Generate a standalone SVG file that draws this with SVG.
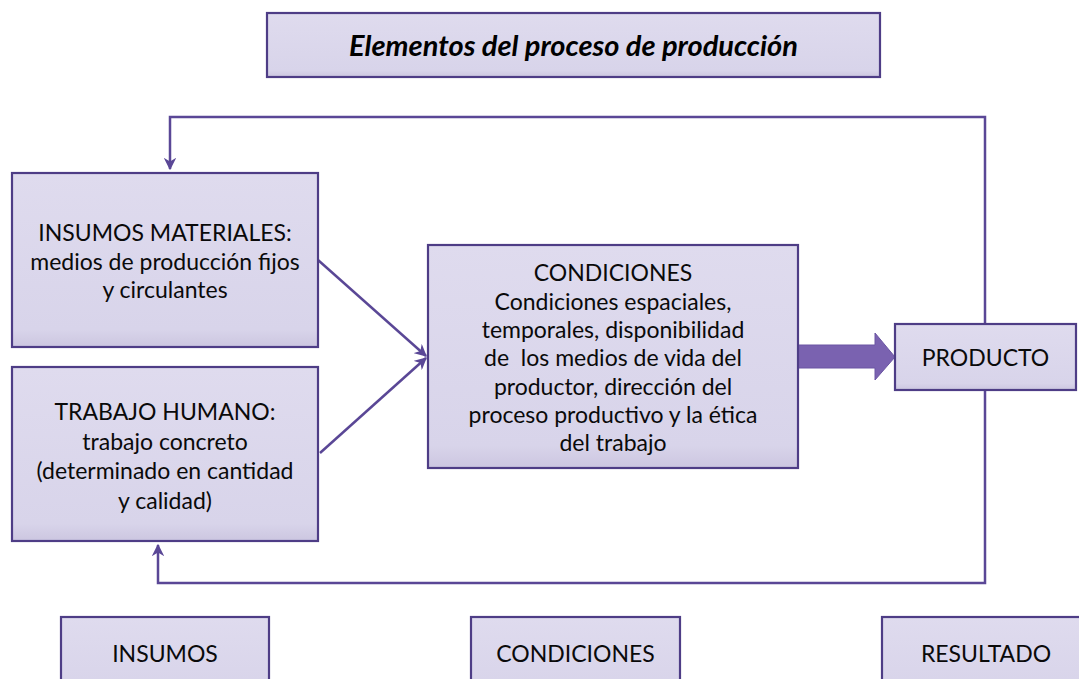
<svg xmlns="http://www.w3.org/2000/svg" width="1079" height="679" viewBox="0 0 1079 679">
<defs>
<linearGradient id="boxfill" x1="0" y1="0" x2="0" y2="1">
<stop offset="0" stop-color="#dfdbee"/>
<stop offset="0.9" stop-color="#d8d4ea"/>
<stop offset="1" stop-color="#ccc6e0"/>
</linearGradient>
<marker id="ah" viewBox="0 0 10 10" refX="9" refY="5" markerWidth="5" markerHeight="5" orient="auto" markerUnits="strokeWidth">
<path d="M0,0 L10,5 L0,10 L3,5 Z" fill="#5a4796"/>
</marker>
<style>
.box{fill:url(#boxfill);stroke:#4e3d86;stroke-width:2.2}
.t{font-family:Lato,"Liberation Sans",sans-serif;font-size:23px;fill:#0a0a0a;text-anchor:middle}
.title{font-family:Lato,"Liberation Sans",sans-serif;font-size:29px;font-weight:bold;font-style:italic;fill:#000;text-anchor:middle}
.lbl{font-family:Lato,"Liberation Sans",sans-serif;font-size:23px;fill:#0a0a0a;text-anchor:middle}
.conn{fill:none;stroke:#5a4796;stroke-width:2.5}
</style>
</defs>
<rect width="1079" height="679" fill="#ffffff"/>

<g id="title">
<rect class="box" x="267" y="13" width="613" height="64"/>
<text class="title" x="573.5" y="56">Elementos del proceso de producción</text>
</g>

<g id="connectors">
<path class="conn" d="M985,324 V117 H170 V169" marker-end="url(#ah)"/>
<path class="conn" d="M985,390 V583 H158 V545" marker-end="url(#ah)"/>
<path class="conn" d="M318,260 L426,356" marker-end="url(#ah)"/>
<path class="conn" d="M320,453 L426,358" marker-end="url(#ah)"/>
<polygon points="798,345 875,345 875,333 895,357 875,380 875,368 798,368" fill="#7a62b0" stroke="#6a55a3" stroke-width="1"/>
</g>

<g id="insumos-materiales">
<rect class="box" x="12" y="173" width="306" height="174"/>
<text class="t" x="165" y="241">INSUMOS MATERIALES:</text>
<text class="t" x="165" y="270">medios de producción fijos</text>
<text class="t" x="165" y="298">y circulantes</text>
</g>

<g id="trabajo-humano">
<rect class="box" x="12" y="367" width="306" height="174"/>
<text class="t" x="165" y="420">TRABAJO HUMANO:</text>
<text class="t" x="165" y="450">trabajo concreto</text>
<text class="t" x="165" y="479">(determinado en cantidad</text>
<text class="t" x="165" y="509">y calidad)</text>
</g>

<g id="condiciones">
<rect class="box" x="428" y="245" width="370" height="223"/>
<text class="t" x="613" y="281">CONDICIONES</text>
<text class="t" x="613" y="310">Condiciones espaciales,</text>
<text class="t" x="613" y="338">temporales, disponibilidad</text>
<text class="t" x="613" y="366" xml:space="preserve">de  los medios de vida del</text>
<text class="t" x="613" y="395">productor, dirección del</text>
<text class="t" x="613" y="423">proceso productivo y la ética</text>
<text class="t" x="613" y="451">del trabajo</text>
</g>

<g id="producto">
<rect class="box" x="895" y="324" width="181" height="66"/>
<text class="t" x="985.5" y="366">PRODUCTO</text>
</g>

<g id="insumos">
<rect class="box" x="61" y="617" width="208" height="80"/>
<text class="lbl" x="165" y="662">INSUMOS</text>
</g>

<g id="condiciones-label">
<rect class="box" x="471" y="617" width="209" height="80"/>
<text class="lbl" x="575.5" y="662">CONDICIONES</text>
</g>

<g id="resultado">
<rect class="box" x="882" y="617" width="208" height="80"/>
<text class="lbl" x="986" y="662">RESULTADO</text>
</g>
</svg>
